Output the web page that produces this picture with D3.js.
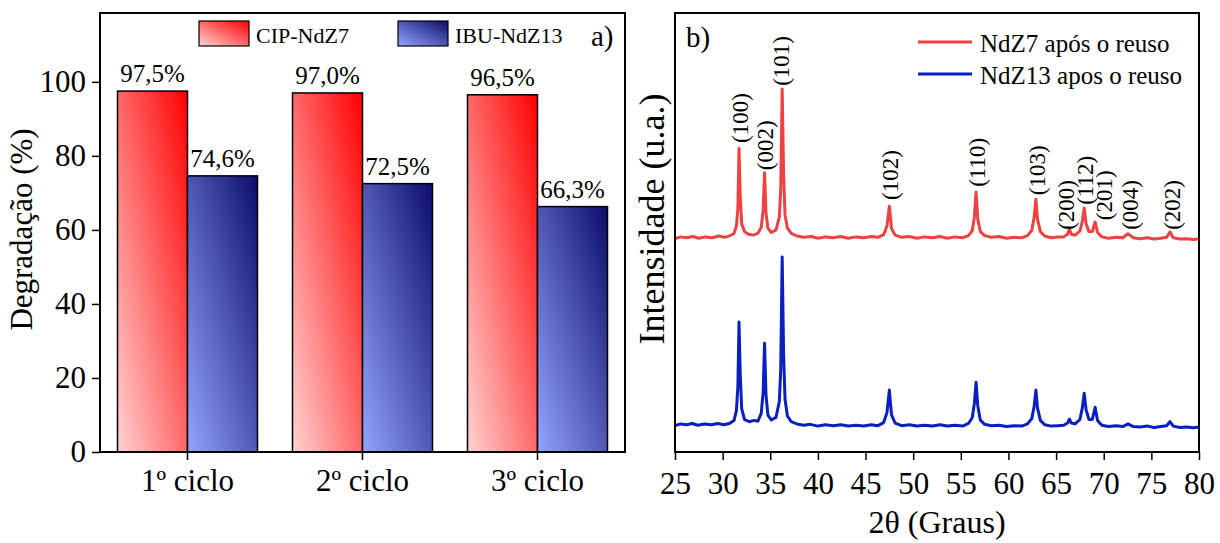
<!DOCTYPE html>
<html>
<head>
<meta charset="utf-8">
<script src="https://cdn.jsdelivr.net/npm/d3@7"></script>
<style>
  html, body { margin: 0; padding: 0; background: #fff; }
  svg { display: block; }
  text { font-family: 'Liberation Serif', 'Times New Roman', Times, serif; }
</style>
</head>
<body>
<svg id="chart" width="1220" height="543"></svg>
<script>
// ---------- Panel a data ----------
const categories = ["1º ciclo", "2º ciclo", "3º ciclo"];
const cipValues = [97.5, 97.0, 96.5];
const ibuValues = [74.6, 72.5, 66.3];
const seriesNamesA = ["CIP-NdZ7", "IBU-NdZ13"];
const yTicksA = [0, 20, 40, 60, 80, 100];

// ---------- Panel b data (2θ, intensity a.u.) ----------
const xTicksB = [25, 30, 35, 40, 45, 50, 55, 60, 65, 70, 75, 80];
const seriesNamesB = ["NdZ7 após o reuso", "NdZ13 apos o reuso"];
const xrdRed = [
  [25.0,48.6],[25.6,49.0],[26.2,48.8],[26.9,49.1],[27.5,48.7],[28.2,49.0],[28.9,48.8],[29.6,49.2],
  [30.2,48.9],[30.8,49.3],[31.2,49.8],[31.45,51.5],[31.6,55.5],[31.72,69.2],[31.85,58.0],[32.0,52.0],
  [32.3,50.2],[32.7,49.6],[33.2,49.4],[33.7,49.8],[34.05,51.2],[34.25,55.0],[34.40,63.6],[34.55,54.5],
  [34.75,51.0],[35.1,50.0],[35.6,50.6],[35.95,53.5],[36.1,60.0],[36.25,82.7],[36.4,63.0],[36.55,54.0],
  [36.8,51.0],[37.2,49.8],[37.8,49.2],[38.5,48.9],[39.3,49.1],[40.0,48.7],[40.8,49.0],[41.6,48.8],
  [42.4,49.1],[43.2,48.7],[44.0,49.0],[44.8,48.8],[45.6,49.1],[46.3,48.9],[46.9,49.5],[47.25,51.5],
  [47.5,56.0],[47.72,51.0],[48.1,49.4],[48.8,48.9],[49.6,49.1],[50.4,48.7],[51.2,49.0],[52.0,48.8],
  [52.8,49.1],[53.6,48.7],[54.4,49.0],[55.2,48.8],[55.8,49.3],[56.2,50.4],[56.42,53.5],[56.6,59.2],
  [56.78,53.0],[57.05,50.2],[57.5,49.3],[58.2,48.9],[59.0,49.1],[59.8,48.7],[60.6,48.9],[61.4,48.8],
  [62.0,49.3],[62.45,50.5],[62.7,53.5],[62.88,57.6],[63.05,53.0],[63.35,50.2],[63.8,49.2],[64.5,48.8],
  [65.2,49.0],[65.8,49.0],[66.2,49.6],[66.4,50.8],[66.6,49.6],[67.0,49.4],[67.5,50.3],[67.75,52.5],
  [67.95,55.6],[68.15,52.0],[68.45,50.2],[68.8,50.2],[69.1,52.4],[69.35,50.0],[69.8,49.0],[70.5,48.7],
  [71.3,48.9],[72.0,48.8],[72.55,49.7],[73.1,48.8],[73.8,48.6],[74.6,48.8],[75.3,48.5],[76.0,48.7],
  [76.6,48.9],[76.95,50.1],[77.3,48.8],[78.0,48.5],[78.7,48.6],[79.4,48.4],[80.0,48.5]
];
const xrdBlue = [
  [25.0,6.0],[25.6,6.4],[26.2,6.2],[26.8,6.5],[27.4,6.1],[28.1,6.4],[28.8,6.2],[29.5,6.5],
  [30.1,6.2],[30.7,6.5],[31.2,7.2],[31.45,9.5],[31.6,15.0],[31.72,29.6],[31.85,17.5],[32.0,9.8],
  [32.3,7.4],[32.8,6.9],[33.3,7.2],[33.7,7.0],[34.05,8.8],[34.25,13.5],[34.40,24.8],[34.55,13.0],
  [34.75,8.4],[35.1,7.3],[35.6,7.9],[35.95,11.5],[36.1,19.0],[36.25,44.4],[36.4,22.0],[36.55,12.0],
  [36.8,8.2],[37.2,6.9],[37.8,6.4],[38.5,6.1],[39.2,6.3],[40.0,5.9],[40.8,6.2],[41.6,6.0],
  [42.4,6.2],[43.2,5.9],[44.0,6.1],[44.8,5.9],[45.6,6.2],[46.3,6.0],[46.9,6.7],[47.25,9.0],
  [47.5,14.1],[47.72,8.5],[48.1,6.6],[48.8,6.0],[49.6,6.2],[50.4,5.9],[51.2,6.1],[52.0,5.9],
  [52.8,6.2],[53.6,5.9],[54.4,6.1],[55.2,5.9],[55.8,6.5],[56.2,7.8],[56.42,11.0],[56.6,15.9],
  [56.78,10.5],[57.05,7.3],[57.5,6.3],[58.2,6.0],[59.0,6.1],[59.8,5.8],[60.6,6.0],[61.4,5.9],
  [62.0,6.4],[62.45,7.6],[62.7,10.5],[62.88,14.1],[63.05,10.0],[63.35,7.2],[63.8,6.2],[64.5,5.9],
  [65.2,6.0],[65.8,6.1],[66.2,6.6],[66.4,7.5],[66.6,6.6],[67.0,6.4],[67.5,7.4],[67.75,10.0],
  [67.95,13.4],[68.15,9.6],[68.45,7.4],[68.8,7.4],[69.1,10.2],[69.35,7.2],[69.8,6.1],[70.5,5.8],
  [71.3,6.0],[72.0,5.8],[72.55,6.4],[73.1,5.8],[73.8,5.7],[74.6,5.9],[75.3,5.6],[76.0,5.8],
  [76.6,6.0],[76.95,6.9],[77.3,5.9],[78.0,5.6],[78.7,5.7],[79.4,5.5],[80.0,5.7]
];
const hklLabels = ["(100)","(002)","(101)","(102)","(110)","(103)","(200)","(112)","(201)","(004)","(202)"];
const hklTheta  = [31.8, 34.4, 36.1, 47.6, 56.7, 63.0, 66.0, 68.0, 70.0, 72.7, 77.2];
const hklBase   = [70.4, 64.2, 83.4, 57.4, 60.4, 58.5, 50.6, 56.3, 52.8, 50.6, 50.6];

// ---------- Drawing ----------
const FONT = "'Liberation Serif','Times New Roman',Times,serif";
const svg = d3.select("#chart");
const defs = svg.append("defs");

function txt(parent) {
  return parent.append("text").attr("font-family", FONT).attr("fill", "#000");
}

function grad(id, c0, c1) {
  const g = defs.append("linearGradient").attr("id", id)
    .attr("x1", 0).attr("y1", 1).attr("x2", 1).attr("y2", 0);
  g.append("stop").attr("offset", "0%").attr("stop-color", c0);
  g.append("stop").attr("offset", "100%").attr("stop-color", c1);
}
grad("gRed", "#ffd2d2", "#ff0000");
grad("gBlue", "#94a4ff", "#0c0c6c");
const fillsA = ["url(#gRed)", "url(#gBlue)"];

// ===== Panel a =====
const A = {left: 100, right: 625, top: 13, bottom: 452};
const xa = d3.scaleBand().domain(categories).range([A.left, A.right]).paddingInner(0.2).paddingOuter(0.1);
const xs = d3.scaleBand().domain([0, 1]).range([0, xa.bandwidth()]);
const ya = d3.scaleLinear().domain([0, 118.6]).range([A.bottom, A.top]);

const rows = categories.map((c, i) => ({c, vals: [cipValues[i], ibuValues[i]]}));
const fmt = v => d3.format(".1f")(v).replace(".", ",") + "%";

const ga = svg.append("g");
rows.forEach(r => {
  r.vals.forEach((v, k) => {
    ga.append("rect")
      .attr("x", xa(r.c) + xs(k)).attr("y", ya(v))
      .attr("width", xs.bandwidth()).attr("height", ya(0) - ya(v))
      .attr("fill", fillsA[k]).attr("stroke", "#000").attr("stroke-width", 1.5);
    txt(ga)
      .attr("x", xa(r.c) + xs(k) + xs.bandwidth() / 2).attr("y", ya(v) - 9)
      .attr("text-anchor", "middle").attr("font-size", 25).text(fmt(v));
  });
});

const axA = svg.append("g").attr("transform", `translate(0,${A.bottom})`)
  .call(d3.axisBottom(xa).tickSize(8).tickSizeOuter(0).tickPadding(9));
const ayA = svg.append("g").attr("transform", `translate(${A.left},0)`)
  .call(d3.axisLeft(ya).tickValues(yTicksA).tickSize(8).tickSizeOuter(0).tickPadding(6));
[axA, ayA].forEach(g => {
  g.attr("font-family", FONT);
  g.select(".domain").remove();
  g.selectAll(".tick line").attr("stroke", "#000").attr("stroke-width", 1.5);
  g.selectAll(".tick text").attr("font-family", FONT).attr("font-size", 31).attr("fill", "#000");
});
svg.append("rect").attr("x", A.left).attr("y", A.top)
  .attr("width", A.right - A.left).attr("height", A.bottom - A.top)
  .attr("fill", "none").attr("stroke", "#000").attr("stroke-width", 2);

txt(svg).attr("transform", `translate(32,${(A.top + A.bottom) / 2 - 3}) rotate(-90)`)
  .attr("text-anchor", "middle").attr("font-size", 31).text("Degradação (%)");

// legend a
const legA = [{x: 199, tx: 256}, {x: 398, tx: 455}];
legA.forEach((l, k) => {
  svg.append("rect").attr("x", l.x).attr("y", 21).attr("width", 50).attr("height", 25)
    .attr("fill", fillsA[k]).attr("stroke", "#000").attr("stroke-width", 1.2);
  txt(svg).attr("x", l.tx).attr("y", 43).attr("font-size", 22).text(seriesNamesA[k]);
});
txt(svg).attr("x", 591).attr("y", 46).attr("font-size", 29).text("a)");

// ===== Panel b =====
const B = {left: 675, right: 1199, top: 13, bottom: 452};
const xb = d3.scaleLinear().domain([25, 80]).range([B.left, B.right]);
const yb = d3.scaleLinear().domain([0, 100]).range([B.bottom, B.top]);

defs.append("clipPath").attr("id", "clipB").append("rect")
  .attr("x", B.left).attr("y", B.top).attr("width", B.right - B.left).attr("height", B.bottom - B.top);

const line = d3.line().x(d => xb(d[0])).y(d => yb(d[1])).curve(d3.curveLinear);
const gb = svg.append("g").attr("clip-path", "url(#clipB)");
const colorsB = ["#ee4242", "#0a1fbf"];
gb.append("path").datum(xrdRed).attr("d", line).attr("fill", "none")
  .attr("stroke", colorsB[0]).attr("stroke-width", 3).attr("stroke-linejoin", "round");
gb.append("path").datum(xrdBlue).attr("d", line).attr("fill", "none")
  .attr("stroke", colorsB[1]).attr("stroke-width", 3).attr("stroke-linejoin", "round");

hklLabels.forEach((t, i) => {
  txt(svg)
    .attr("transform", `translate(${xb(hklTheta[i])},${yb(hklBase[i])}) rotate(-90)`)
    .attr("dy", "0.35em").attr("text-anchor", "start").attr("font-size", 23).text(t);
});

const axB = svg.append("g").attr("transform", `translate(0,${B.bottom})`)
  .call(d3.axisBottom(xb).tickValues(xTicksB).tickSize(8).tickSizeOuter(0).tickPadding(12));
axB.attr("font-family", FONT);
axB.select(".domain").remove();
axB.selectAll(".tick line").attr("stroke", "#000").attr("stroke-width", 1.5);
axB.selectAll(".tick text").attr("font-family", FONT).attr("font-size", 31).attr("fill", "#000");

svg.append("rect").attr("x", B.left).attr("y", B.top)
  .attr("width", B.right - B.left).attr("height", B.bottom - B.top)
  .attr("fill", "none").attr("stroke", "#000").attr("stroke-width", 2);

txt(svg).attr("x", (B.left + B.right) / 2).attr("y", 533)
  .attr("text-anchor", "middle").attr("font-size", 32).text("2θ (Graus)");
txt(svg).attr("transform", `translate(664,219) rotate(-90)`)
  .attr("text-anchor", "middle").attr("font-size", 36).text("Intensidade (u.a.)");
txt(svg).attr("x", 686).attr("y", 47).attr("font-size", 29).text("b)");

// legend b
[42, 74].forEach((y, k) => {
  svg.append("line").attr("x1", 918).attr("x2", 972).attr("y1", y).attr("y2", y)
    .attr("stroke", colorsB[k]).attr("stroke-width", 3);
  txt(svg).attr("x", 980).attr("y", y + 10).attr("font-size", 25).text(seriesNamesB[k]);
});
</script>
</body>
</html>
